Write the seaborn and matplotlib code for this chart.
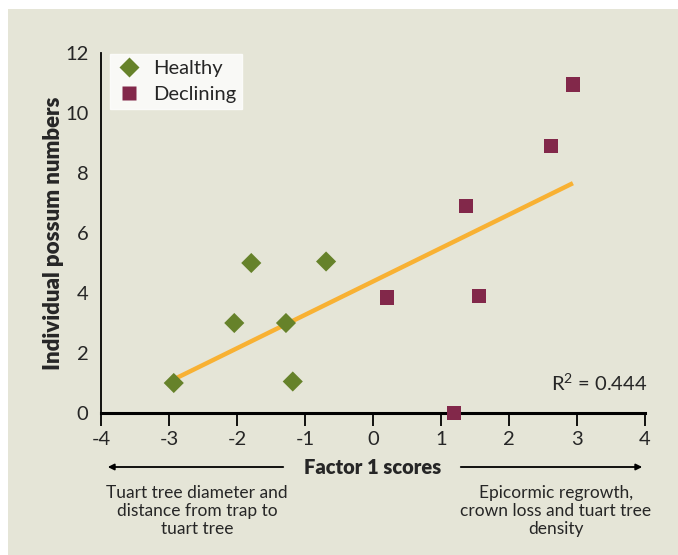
import numpy as np
import pandas as pd
import matplotlib
matplotlib.use('Agg')
import matplotlib.pyplot as plt
import seaborn as sns

# Data
healthy_x = [-2.93, -2.04, -1.79, -1.28, -1.18, -0.69]
healthy_y = [1.0, 3.0, 5.0, 3.0, 1.05, 5.05]
declining_x = [0.21, 1.19, 1.37, 1.56, 2.62, 2.94]
declining_y = [3.85, 0.0, 6.9, 3.9, 8.9, 10.95]
groups = ['Healthy', 'Declining']
x_ticks = [-4, -3, -2, -1, 0, 1, 2, 3, 4]
y_ticks = [0, 2, 4, 6, 8, 10, 12]
r2_text = 'R$^2$ = 0.444'

df = pd.DataFrame({
    'score': healthy_x + declining_x,
    'possums': healthy_y + declining_y,
    'group': [groups[0]] * len(healthy_x) + [groups[1]] * len(declining_x),
})

sns.set_style('white')
plt.rcParams['font.family'] = ['Lato', 'DejaVu Sans']
plt.rcParams['mathtext.fontset'] = 'custom'
plt.rcParams['mathtext.rm'] = 'Lato'

bg = '#E5E5D7'
fig = plt.figure(figsize=(6.78, 5.55), dpi=100)
fig.patch.set_facecolor('white')
# beige panel with a thin white margin at top and left
fig.patches.append(plt.Rectangle((8 / 678, 0), 1, 1 - 9 / 555, transform=fig.transFigure,
                                 facecolor=bg, edgecolor='none', zorder=-10))

ax = fig.add_axes([101 / 678, 1 - 413 / 555, 544 / 678, 360 / 555])
ax.set_facecolor(bg)

# trend line over all points
sns.regplot(data=df, x='score', y='possums', scatter=False, ci=None, truncate=True,
            line_kws={'color': '#F8B133', 'lw': 3.2, 'solid_capstyle': 'butt'}, ax=ax)

sns.scatterplot(data=df, x='score', y='possums', hue='group', style='group',
                markers={'Healthy': 'D', 'Declining': 's'},
                palette={'Healthy': '#66822A', 'Declining': '#82284A'},
                s=105, edgecolor='none', ax=ax, zorder=5, clip_on=False, legend=True)

ax.set_xlim(-4, 4)
ax.set_ylim(0, 12)
ax.set_xticks(x_ticks)
ax.set_yticks(y_ticks)
ax.set_xticklabels([str(t) for t in x_ticks])
ax.set_yticklabels([str(t) for t in y_ticks])
ax.tick_params(axis='x', direction='out', length=9, width=1.3, color='black',
               labelsize=14.5, pad=4, bottom=True)
ax.tick_params(axis='y', length=0, labelsize=14.5, pad=9)
ax.set_xlabel('')
ax.set_ylabel('Individual possum numbers', fontsize=16, fontweight='heavy')
ax.yaxis.set_label_coords(-0.068, 0.5)

for side in ['top', 'right']:
    ax.spines[side].set_visible(False)
ax.spines['left'].set_linewidth(1.3)
ax.spines['bottom'].set_linewidth(2.2)
ax.spines['left'].set_color('black')
ax.spines['bottom'].set_color('black')

leg = ax.legend(loc='upper left', bbox_to_anchor=(-0.005, 1.03), frameon=True, fancybox=False,
                fontsize=14.5, handletextpad=0.5, labelspacing=0.42, borderpad=0.3,
                borderaxespad=0.6, markerscale=1.0, handlelength=1.3)
leg.get_frame().set_facecolor('white')
leg.get_frame().set_edgecolor('white')

ax.text(1.005, 0.085, r2_text, transform=ax.transAxes, ha='right', va='center', fontsize=14.5)

# axis title with arrows
fig.text(373 / 678, 1 - 467 / 555, 'Factor 1 scores', ha='center', va='center',
         fontsize=14.5, fontweight='heavy')
fig.add_artist(matplotlib.patches.FancyArrowPatch(
    (286 / 678, 1 - 467 / 555), (105 / 678, 1 - 467 / 555), transform=fig.transFigure,
    arrowstyle='-|>', mutation_scale=9, lw=1.3, color='black'))
fig.add_artist(matplotlib.patches.FancyArrowPatch(
    (458 / 678, 1 - 467 / 555), (645 / 678, 1 - 467 / 555), transform=fig.transFigure,
    arrowstyle='-|>', mutation_scale=9, lw=1.3, color='black'))

fig.text(197 / 678, 1 - 511 / 555, 'Tuart tree diameter and\ndistance from trap to\ntuart tree',
         ha='center', va='center', fontsize=12.5, linespacing=1.18)
fig.text(556 / 678, 1 - 511 / 555, 'Epicormic regrowth,\ncrown loss and tuart tree\ndensity',
         ha='center', va='center', fontsize=12.5, linespacing=1.18)

fig.savefig('out.png', dpi=100, facecolor=fig.get_facecolor())
